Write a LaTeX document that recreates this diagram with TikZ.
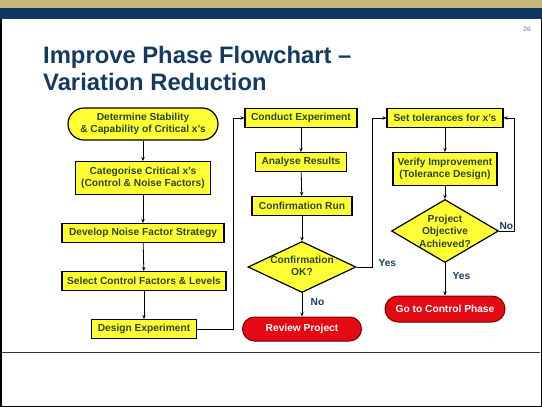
\documentclass[tikz,border=0pt]{standalone}
\usepackage{fontspec}
\setmainfont{Liberation Sans}
\usetikzlibrary{arrows.meta,shapes.geometric}
\definecolor{ybox}{RGB}{255,255,51}
\definecolor{gtext}{RGB}{45,70,35}
\definecolor{rbox}{RGB}{228,10,20}
\definecolor{rborder}{RGB}{120,0,0}
\definecolor{navy}{RGB}{15,55,95}
\definecolor{gold}{RGB}{200,180,120}
\definecolor{titleblue}{RGB}{22,58,95}
\definecolor{lblue}{RGB}{25,60,100}
\tikzset{
  fnt/.style={font=\fontsize{10.2}{12.5}\selectfont\bfseries},
  ybase/.style={draw=black,line width=1.2pt,fill=ybox,text=gtext,fnt,align=center,inner sep=0pt},
  stepbox/.style={ybase,rectangle,minimum height=19pt},
  termbox/.style={draw=rborder,line width=1pt,fill=rbox,text=white,fnt,rectangle,rounded corners=12pt,minimum height=24pt,inner sep=0pt},
  decbox/.style={ybase,diamond,shape aspect=2},
  dtext/.style={text=gtext,fnt,align=center,inner sep=0pt},
  arr/.style={line width=0.8pt,-{Stealth[length=4pt,width=3.5pt]}},
  lbl/.style={text=lblue,fnt}
}
\begin{document}
\begin{tikzpicture}[x=1pt,y=-1pt]
\useasboundingbox (0,0) rectangle (542,407);
\fill[white] (0,0) rectangle (542,407);
\fill[gold] (0,0) rectangle (542,8);
\fill[navy] (0,8) rectangle (542,19);
\draw[black!80,line width=0.8pt] (2,352) -- (540,352);
\draw[black,line width=3pt] (0,19) -- (0,407) -- (542,407) -- (542,19);
\node[text=black!55,font=\fontsize{6.5}{7}\selectfont] (pg) at (527,29) {26};
\node[anchor=base west,text=titleblue,font=\fontsize{23.8}{27}\selectfont\bfseries,inner sep=0pt] (t1) at (43,63) {Improve Phase Flowchart –};
\node[anchor=base west,text=titleblue,font=\fontsize{23.8}{27}\selectfont\bfseries,inner sep=0pt] (t2) at (43,90) {Variation Reduction};

% column 1
\node[ybase,rectangle,rounded corners=16pt,minimum width=150pt,minimum height=32pt] (ds) at (143,124) {Determine Stability\\\& Capability of Critical x's};
\node[stepbox,minimum width=135pt,minimum height=33pt] (cc) at (143,178) {Categorise Critical x's\\(Control \& Noise Factors)};
\node[stepbox,minimum width=162pt] (dn) at (143,233) {Develop Noise Factor Strategy};
\node[stepbox,minimum width=164pt] (sc) at (144,281) {Select Control Factors \& Levels};
\node[stepbox,minimum width=105pt] (de) at (144,329) {Design Experiment};

% column 2
\node[stepbox,minimum width=112pt] (ce) at (301,118) {Conduct Experiment};
\node[stepbox,minimum width=91pt] (ar) at (301,162) {Analyse Results};
\node[stepbox,minimum width=100pt] (cr) at (302,206) {Confirmation Run};
\node[decbox,minimum width=108pt,minimum height=51pt] (cok) at (302,267) {};
\node[dtext] (cokt) at (302,266) {Confirmation\\OK?};
\node[termbox,minimum width=119pt] (rp) at (302,329) {Review Project};

% column 3
\node[stepbox,minimum width=116pt] (st) at (445,118) {Set tolerances for x's};
\node[stepbox,minimum width=104pt,minimum height=33pt] (vi) at (445,169) {Verify Improvement\\(Tolerance Design)};
\node[decbox,minimum width=107pt,minimum height=63pt] (po) at (445,231) {};
\node[dtext] (pot) at (445,231) {Project\\Objective\\Achieved?};
\node[termbox,minimum width=120pt,minimum height=26pt,rounded corners=13pt] (gc) at (445,309) {Go to Control Phase};

% connectors
\draw[arr] (ds) -- (cc);
\draw[arr] (cc) -- (dn);
\draw[arr] (dn) -- (sc);
\draw[arr] (sc) -- (de);
\draw[arr] (de.east) -- ++(36,0) |- (ce.west);
\draw[arr] (ce) -- (ar);
\draw[arr] (ar) -- (cr);
\draw[arr] (cr) -- (cok);
\draw[arr] (cok) -- node[lbl,right=5pt,pos=0.4] (no1) {No} (rp);
\draw[arr] (cok.east) -- ++(16,0) |- (st.west);
\node[lbl,anchor=west] (yes1) at (375,263) {Yes};
\draw[arr] (st) -- (vi);
\draw[arr] (vi) -- (po);
\draw[arr] (po) -- node[lbl,right=4pt,pos=0.4] (yes2) {Yes} (gc);
\draw[arr] (po.east) -- ++(15,0) |- (st.east);
\node[lbl,anchor=west] (no2) at (496,226) {No};
\end{tikzpicture}
\end{document}
